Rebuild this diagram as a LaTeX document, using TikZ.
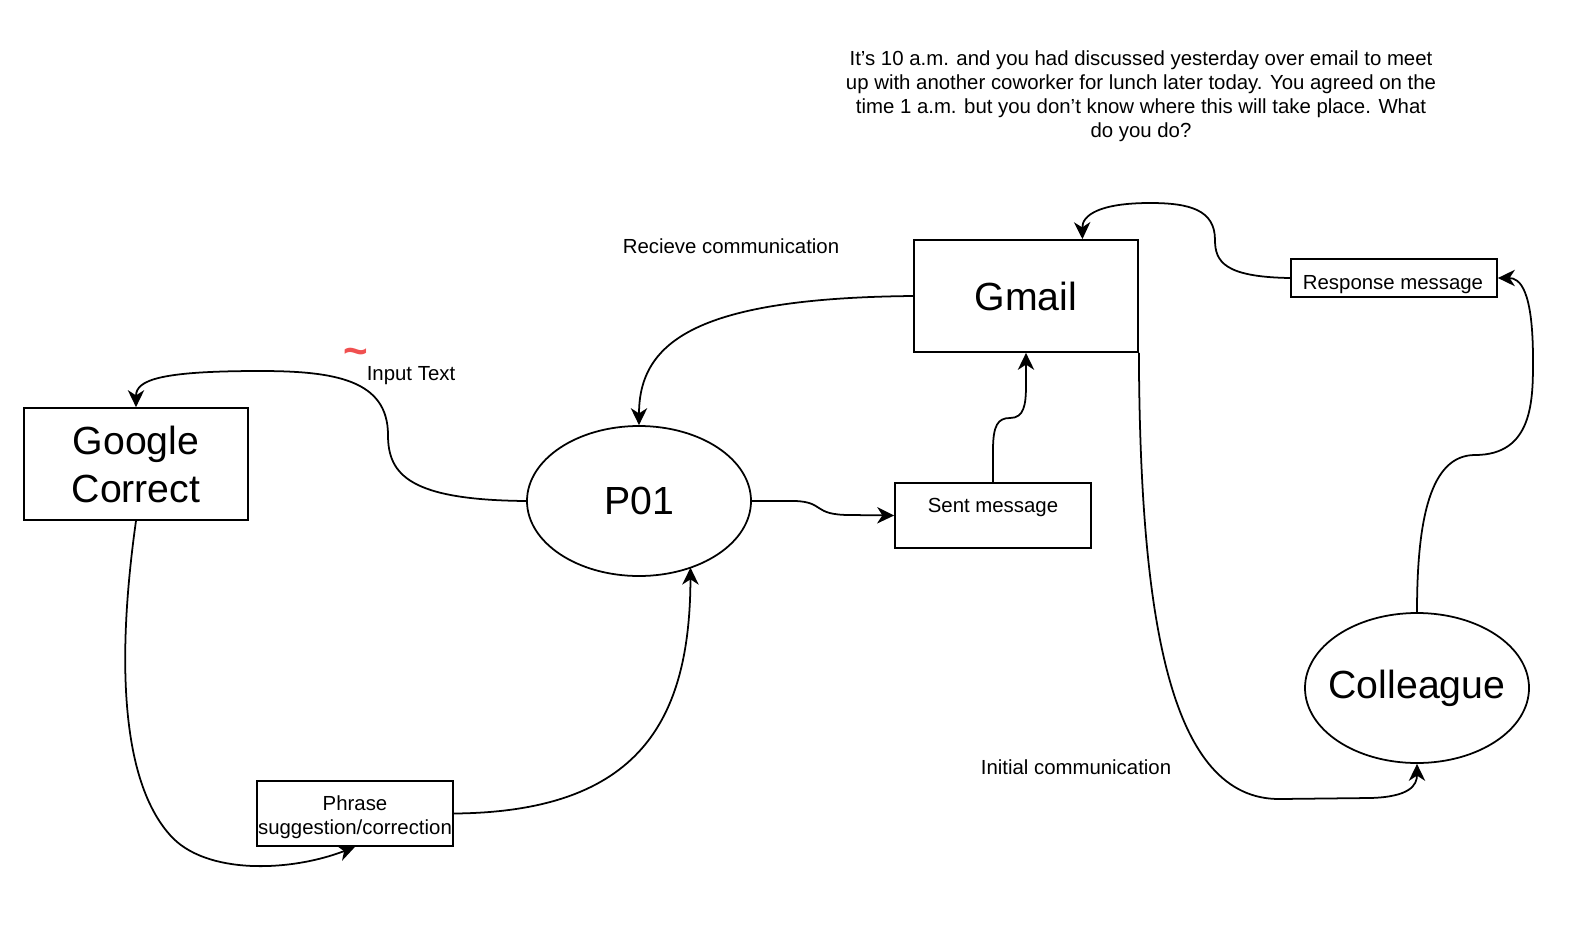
\documentclass[tikz,border=0pt]{standalone}
\usepackage{fontspec}
\setmainfont{Liberation Sans}
\usetikzlibrary{arrows.meta,calc,shapes.geometric}
\definecolor{tilred}{RGB}{240,80,80}
\tikzset{
  box/.style={draw,line width=1.5pt,rectangle,inner sep=0pt},
  oval/.style={draw,line width=1.5pt,ellipse,inner sep=0pt,minimum width=6.72cm,minimum height=4.5cm},
  small/.style={font=\fontsize{17.4}{20.5}\selectfont,align=center,inner sep=0pt},
  big/.style={font=\fontsize{33.5}{41}\selectfont,align=center,inner sep=0pt},
  conn/.style={line width=1.5pt,-{Stealth[length=14.5pt,width=14pt,inset=4.5pt]}},
}
\begin{document}
\begin{tikzpicture}[x=0.03cm,y=-0.03cm]
\useasboundingbox (0,0) rectangle (1582,944);
% nodes
\node[box,minimum width=6.72cm,minimum height=3.36cm] (gc) at (136,464) {};
\node[big] (gct) at (136,464) {Google\\Correct};
\node[oval] (p01) at (639,501) {};
\node[big] (p01t) at (639,501) {P01};
\node[box,minimum width=6.72cm,minimum height=3.36cm] (gmail) at (1026,296) {};
\node[big] (gmailt) at (1026,296) {Gmail};
\node[box,minimum width=5.88cm,minimum height=1.95cm] (sent) at (993,515.5) {};
\node[small] (sentt) at (993,507) {Sent message};
\node[box,minimum width=6.18cm,minimum height=1.14cm] (resp) at (1394,278) {};
\node[small] (respt) at (1393,285) {Response message};
\node[oval] (coll) at (1417,688) {};
\node[big] (collt) at (1417,688) {Colleague};
\node[box,minimum width=5.88cm,minimum height=1.95cm] (phrase) at (355,813.5) {};
\node[small] (phraset) at (355,817) {Phrase\\suggestion/correction};
% labels
\node[small] (recv) at (731,246) {Recieve communication};
\node[small] (input) at (411,376) {Input Text};
\node[small] (init) at (1076,767) {Initial communication};
\node[small] (desc) at (1141,96) {It’s 10 a.m. and you had discussed yesterday over email to meet\\up with another coworker for lunch later today. You agreed on the\\time 1 a.m. but you don’t know where this will take place. What\\do you do?};
\node[text=tilred,font=\fontsize{36}{36}\selectfont\bfseries,inner sep=0pt] (tilde) at (356,357) {\char"007E};
% connectors
\coordinate (p01b) at ($(p01.center)+(51.5,66.6)$);
\coordinate (gmailtop) at ($(gmail.north)!0.5!(gmail.north east)$);
\draw[conn] (p01.west) .. controls (410,500) and (388,475) .. (388,435)
  .. controls (388,380) and (335,371) .. (260,371)
  .. controls (160,371) and (136,380) .. (gc.north);
\draw[conn] (gc.south) .. controls (122,620) and (112,770) .. (170,835)
  .. controls (205,875) and (290,872) .. (phrase.south);
\draw[conn] (phrase.east) .. controls (640,812) and (690,720) .. (p01b);
\draw[conn] (gmail.west) .. controls (700,298) and (639,340) .. (p01.north);
\draw[conn] (p01.east) -- (795,501) .. controls (825,502) and (812,515) .. (850,515) -- (sent.west);
\draw[conn] (sent.north) -- (993,450) .. controls (993,425) and (998,418) .. (1010,418)
  .. controls (1024,418) and (1026,405) .. (1026,385) -- (gmail.south);
\draw[conn] (gmail.south east) .. controls (1140,620) and (1170,800) .. (1280,799)
  -- (1370,798) .. controls (1410,797) and (1417,785) .. (coll.south);
\draw[conn] (coll.north) .. controls (1417,520) and (1430,455) .. (1475,455)
  .. controls (1533,455) and (1533,400) .. (1533,360)
  .. controls (1533,290) and (1520,278) .. (resp.east);
\draw[conn] (resp.west) .. controls (1225,277) and (1215,262) .. (1215,240)
  .. controls (1215,210) and (1190,203) .. (1150,203)
  .. controls (1100,203) and (1082,215) .. (gmailtop);
\end{tikzpicture}
\end{document}
